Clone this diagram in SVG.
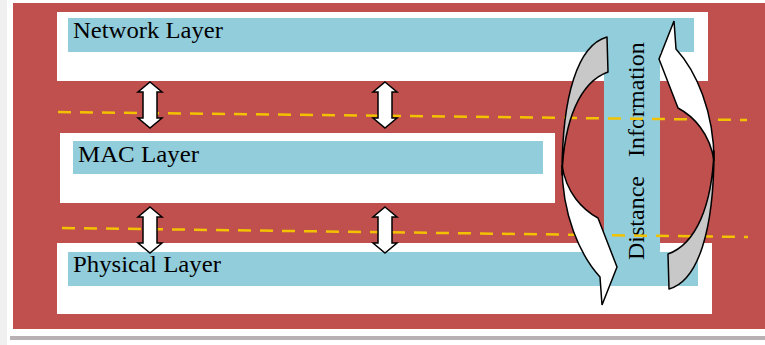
<svg xmlns="http://www.w3.org/2000/svg" width="765" height="345" viewBox="0 0 765 345">
  <defs>
    <style>
      .frame { fill: #C0504D; }
      .panel { fill: #FFFFFF; }
      .bar { fill: #92CDDC; }
      .lbl { font-family: "Liberation Serif", "Times New Roman", serif; font-size: 24px; fill: #000000; }
      .dash { fill: none; stroke: #F2C200; stroke-width: 2.5; stroke-dasharray: 13 9; }
      .dbl { fill: #FFFFFF; stroke: #000000; stroke-width: 1.5; stroke-linejoin: miter; }
      .back { fill: #C8C8C8; stroke: #000000; stroke-width: 1.5; stroke-linejoin: round; }
      .front { fill: #FFFFFF; stroke: #000000; stroke-width: 1.5; stroke-linejoin: miter; }
    </style>
    <path id="dblArrow" d="M0,-23 L12,-13 L7,-13 L7,13 L12,13 L0,23 L-12,13 L-7,13 L-7,-13 L-12,-13 Z"/>
    <g id="curved">
      <path class="back" d="M607,37 C578,45 562,95 562,175 C564,120 580,82 608,72 Z"/>
      <path class="front" d="M562,165 C562,215 580,255 600,277 L602,305 L617,267 L598,218 C583,210 566,193 562,165 Z"/>
    </g>
  </defs>

  <rect x="0" y="0" width="765" height="345" fill="#FFFFFF"/>
  <rect x="0" y="0" width="7" height="345" fill="#F0F0F0"/>
  <rect x="10" y="336" width="755" height="4" fill="#B9B0B4"/>

  <g id="frame">
    <rect class="frame" x="13" y="3" width="752" height="326"/>
  </g>

  <g id="network-layer">
    <rect class="panel" x="57" y="12" width="651" height="69"/>
    <rect class="bar" x="68" y="18" width="626" height="34"/>
    <text class="lbl" x="73" y="38" textLength="150" lengthAdjust="spacingAndGlyphs">Network Layer</text>
  </g>

  <g id="mac-layer">
    <rect class="panel" x="60" y="133" width="495" height="70"/>
    <rect class="bar" x="73" y="141" width="470" height="33"/>
    <text class="lbl" x="78" y="162" textLength="121" lengthAdjust="spacingAndGlyphs">MAC Layer</text>
  </g>

  <g id="physical-layer">
    <rect class="panel" x="57" y="243" width="655" height="71"/>
    <rect class="bar" x="68" y="252" width="630" height="34"/>
    <text class="lbl" x="73" y="272" textLength="148" lengthAdjust="spacingAndGlyphs">Physical Layer</text>
  </g>

  <g id="distance-information">
    <rect class="bar" x="604" y="18" width="56" height="268"/>
    <text class="lbl" font-size="25" transform="translate(644,260) rotate(-90)"><tspan x="0" y="0">Distance</tspan><tspan x="103" y="0">Information</tspan></text>
  </g>

  <g id="connectors">
    <line class="dash" x1="58" y1="112" x2="747" y2="120"/>
    <line class="dash" x1="62" y1="228" x2="748" y2="237"/>
    <use href="#dblArrow" class="dbl" x="150" y="105"/>
    <use href="#dblArrow" class="dbl" x="385" y="105"/>
    <use href="#dblArrow" class="dbl" x="150" y="230"/>
    <use href="#dblArrow" class="dbl" x="385" y="230"/>
    <use href="#curved"/>
    <use href="#curved" transform="rotate(180 638 163)"/>
  </g>
</svg>
